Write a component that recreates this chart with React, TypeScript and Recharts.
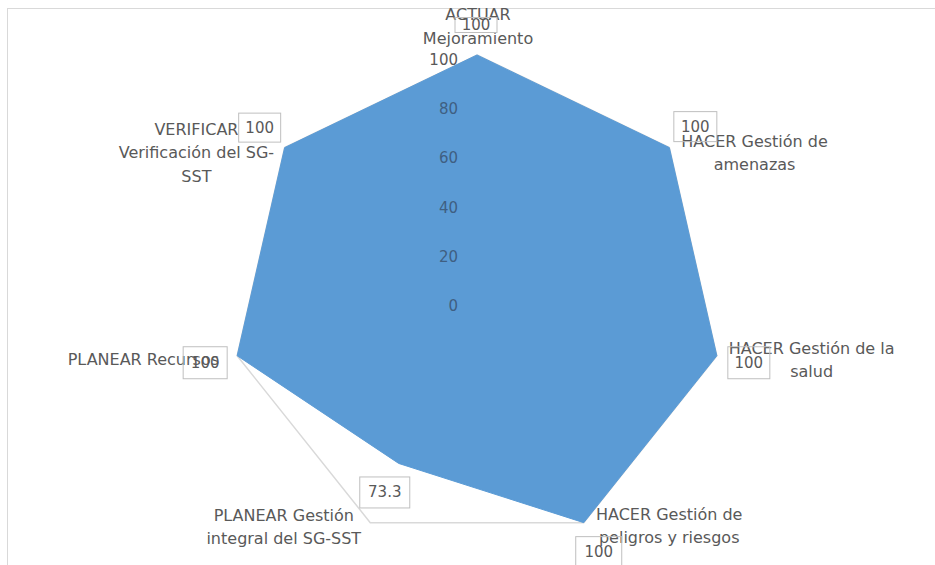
import React from 'react';
import { RadarChart, Radar, PolarGrid, PolarAngleAxis, PolarRadiusAxis, LabelList } from 'recharts';

const CATEGORIES = [
  'ACTUAR Mejoramiento',
  'HACER Gestión de amenazas',
  'HACER Gestión de la salud',
  'HACER Gestión de peligros y riesgos',
  'PLANEAR Gestión integral del SG-SST',
  'PLANEAR Recursos',
  'VERIFICAR Verificación del SG-SST',
];
const CATEGORY_LINES = [
  ['ACTUAR', 'Mejoramiento'],
  ['HACER Gestión de', 'amenazas'],
  ['HACER Gestión de la', 'salud'],
  ['HACER Gestión de', 'peligros y riesgos'],
  ['PLANEAR Gestión', 'integral del SG-SST'],
  ['PLANEAR Recursos'],
  ['VERIFICAR', 'Verificación del SG-', 'SST'],
];
const VALUES = [100, 100, 100, 100, 73.3, 100, 100];
const RADIUS_TICKS = [0, 20, 40, 60, 80, 100];

const data = CATEGORIES.map((c, i) => ({ category: c, value: VALUES[i] }));

// styling offsets for category labels (relative to the axis tick anchor)
const CAT_OFFSETS = [
  { dx: 1, dy: -33 },
  { dx: 79, dy: -2 },
  { dx: 87, dy: -10 },
  { dx: 82, dy: -16 },
  { dx: -83, dy: -15 },
  { dx: -86, dy: 1 },
  { dx: -82, dy: -14 },
];
// styling offsets for data-label boxes (relative to the vertex)
const LABEL_OFFSETS = [
  { dx: -1, dy: -30, w: 42, h: 15 },
  { dx: 26, dy: -21, w: 43, h: 30 },
  { dx: 32, dy: 7, w: 42, h: 32 },
  { dx: 15, dy: 29, w: 46, h: 30 },
  { dx: -14, dy: 29, w: 50, h: 31 },
  { dx: -32, dy: 7, w: 44, h: 32 },
  { dx: -25, dy: -20, w: 42, h: 29 },
];

const FONT = '"DejaVu Sans", "Open Sans", sans-serif';
const TEXT = '#595959';
const LINE_H = 23.5;

const AngleTick = (props: any) => {
  const { x, y, payload } = props;
  const idx = CATEGORIES.indexOf(payload.value);
  const lines = CATEGORY_LINES[idx] || [payload.value];
  const off = CAT_OFFSETS[idx] || { dx: 0, dy: 0 };
  return (
    <text
      x={x + off.dx}
      y={y + off.dy}
      textAnchor="middle"
      dominantBaseline="central"
      fill={TEXT}
      fontSize={16}
      fontFamily={FONT}
    >
      {lines.map((l: string, i: number) => (
        <tspan key={i} x={x + off.dx} dy={i === 0 ? 0 : LINE_H}>
          {l}
        </tspan>
      ))}
    </text>
  );
};

const RadiusTick = (props: any) => {
  const { x, y, payload } = props;
  return (
    <text
      x={x - 19}
      y={y + 5}
      textAnchor="end"
      dominantBaseline="central"
      fill={payload.value === 100 ? TEXT : '#3f5f82'}
      fontSize={15}
      fontFamily={FONT}
    >
      {payload.value}
    </text>
  );
};

const ValueLabel = (props: any) => {
  const { x, y, value, index } = props;
  const off = LABEL_OFFSETS[index] || { dx: 0, dy: 0, w: 42, h: 30 };
  const cx = x + off.dx;
  const cy = y + off.dy;
  return (
    <g>
      <rect
        x={cx - off.w / 2}
        y={cy - off.h / 2}
        width={off.w}
        height={off.h}
        fill="none"
        stroke="#bfbfbf"
        strokeWidth={1}
      />
      <text
        x={cx}
        y={cy}
        textAnchor="middle"
        dominantBaseline="central"
        fill={TEXT}
        fontSize={15}
        fontFamily={FONT}
      >
        {value}
      </text>
    </g>
  );
};

export default function App() {
  return (
    <div style={{ position: 'absolute', left: 0, top: 0, width: 935, height: 565, background: '#fff', overflow: 'hidden' }}>
      <div
        style={{
          position: 'absolute',
          left: 7,
          top: 8,
          width: 1000,
          height: 700,
          border: '1px solid #d9d9d9',
        }}
      />
      <div style={{ position: 'absolute', left: 0, top: 0 }}>
        <RadarChart width={935} height={565} data={data} cx={477} cy={301} outerRadius={246} margin={{ top: 0, right: 0, bottom: 0, left: 0 }}>
          <PolarGrid gridType="polygon" polarRadius={[246]} radialLines={false} stroke="#d9d9d9" strokeWidth={1.5} />
          <PolarAngleAxis dataKey="category" tick={<AngleTick />} tickLine={false} axisLine={false} />
          <Radar
            dataKey="value"
            fill="#5b9bd5"
            fillOpacity={1}
            stroke="#5b9bd5"
            strokeWidth={1}
            isAnimationActive={false}
          >
            <LabelList dataKey="value" content={<ValueLabel />} />
          </Radar>
          <PolarRadiusAxis
            angle={90}
            domain={[0, 100]}
            ticks={RADIUS_TICKS}
            tickCount={6}
            axisLine={false}
            tickLine={false}
            tick={<RadiusTick />}
          />
        </RadarChart>
      </div>
    </div>
  );
}
